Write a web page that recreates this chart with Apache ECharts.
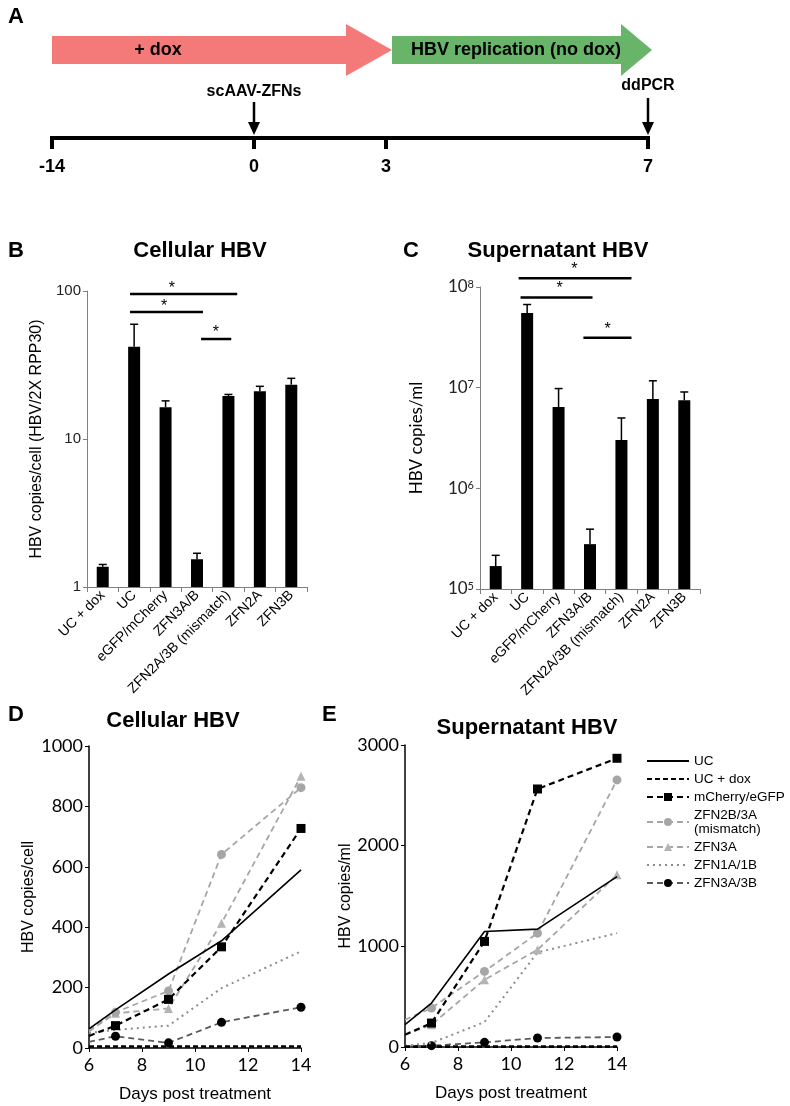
<!DOCTYPE html>
<html><head><meta charset="utf-8">
<script src="https://cdn.jsdelivr.net/npm/echarts@6/dist/echarts.min.js"></script>
<style>html,body{margin:0;padding:0;background:#fff}#c{width:790px;height:1106px}</style>
</head><body><div id="c"></div>
<script>
// ---------- data ----------
const timelineLabels = ['-14', '0', '3', '7'];
const barCategories = ['UC + dox', 'UC', 'eGFP/mCherry', 'ZFN3A/B', 'ZFN2A/3B (mismatch)', 'ZFN2A', 'ZFN3B'];
const cellularMeans = [1.37, 42, 16.4, 1.54, 19.5, 21, 23.3];
const cellularErrTop = [1.42, 59.6, 18.1, 1.69, 20.0, 22.7, 25.7];
const superMeans = [1.69e5, 5.53e7, 6.43e6, 2.79e5, 3.02e6, 7.73e6, 7.48e6];
const superErrTop = [2.16e5, 6.7e7, 9.8e6, 3.93e5, 5.0e6, 1.17e7, 9.06e6];
// significance bars: [fromIndex, toIndex, level]
const cellularSig = [[0.87, 4.28, 95.4], [0.87, 3.19, 72], [3.13, 4.09, 47.4]];
const cellularStars = [[2.2, 104], [1.95, 79], [3.6, 52]];
const superSig = [[0.73, 4.32, 1.22e8], [0.79, 3.08, 7.87e7], [2.79, 4.32, 3.14e7]];
const superStars = [[2.5, 1.5e8], [2.03, 9.6e7], [3.56, 3.8e7]];

const days = [6, 7, 9, 11, 14];
const lineNames = ['UC', 'UC + dox', 'mCherry/eGFP', 'ZFN2B/3A\n(mismatch)', 'ZFN3A', 'ZFN1A/1B', 'ZFN3A/3B'];
const cellUC = [63, 126, 245, 355, 590];
const cellUCdox = [5, 5, 5, 5, 5];
const cellMCherry = [40, 74, 161, 335, 727];
const cellZFN2B3A = [60, 118, 189, 641, 862];
const cellZFN3A = [55, 115, 131, 413, 900];
const cellZFN1A1B = [50, 60, 74, 198, 320];
const cellZFN3A3B = [20, 39, 17, 85, 135];
const supUC = [222, 437, 1148, 1171, 1693];
const supUCdox = [4, 4, 4, 4, 4];
const supMCherry = [122, 238, 1049, 2563, 2868];
const supZFN2B3A = [271, 387, 751, 1131, 2653];
const supZFN3A = [122, 222, 668, 966, 1710];
const supZFN1A1B = [13, 40, 248, 939, 1131];
const supZFN3A3B = [5, 13, 46, 89, 99];

// ---------- styles ----------
const SANS = "'Liberation Sans', Arial, sans-serif";
const CAL = "Lato, 'Liberation Sans', sans-serif";
const lineStyles = [
  {color: '#000', width: 1.6, type: 'solid', symbol: 'none', mcolor: '#000'},
  {color: '#000', width: 2.6, type: [5, 3], symbol: 'none', mcolor: '#000'},
  {color: '#000', width: 2.2, type: [6, 4], symbol: 'rect', size: 9, mcolor: '#000'},
  {color: '#a6a6a6', width: 1.8, type: [6, 4], symbol: 'circle', size: 9, mcolor: '#a6a6a6'},
  {color: '#a6a6a6', width: 1.8, type: [6, 4], symbol: 'triangle', size: 9, mcolor: '#b4b4b4'},
  {color: '#8c8c8c', width: 2, type: [2, 4], symbol: 'none', mcolor: '#8c8c8c'},
  {color: '#5a5a5a', width: 1.8, type: [6, 4], symbol: 'circle', size: 9, mcolor: '#000'}
];
const cellSets = [cellUC, cellUCdox, cellMCherry, cellZFN2B3A, cellZFN3A, cellZFN1A1B, cellZFN3A3B];
const supSets = [supUC, supUCdox, supMCherry, supZFN2B3A, supZFN3A, supZFN1A1B, supZFN3A3B];

function lineSeries(sets, xi, yi) {
  return sets.map((vals, k) => {
    const st = lineStyles[k];
    return {
      type: 'line', name: lineNames[k], xAxisIndex: xi, yAxisIndex: yi,
      symbol: st.symbol, symbolSize: st.size || 0, showSymbol: st.symbol !== 'none',
      lineStyle: {color: st.color, width: st.width, type: st.type},
      itemStyle: {color: st.mcolor, borderWidth: 0},
      data: days.map((d, i) => i === 0 ? {value: [d, vals[i]], symbol: 'none'} : [d, vals[i]]),
      z: 10 - k, animation: false
    };
  });
}
function errSeries(xi, yi, means, tops) {
  return {
    type: 'custom', xAxisIndex: xi, yAxisIndex: yi, z: 5,
    data: means.map((m, i) => [i, m, tops[i]]),
    renderItem: (params, api) => {
      const p0 = api.coord([api.value(0), api.value(1)]);
      const p1 = api.coord([api.value(0), api.value(2)]);
      return {type: 'group', children: [
        {type: 'line', shape: {x1: p0[0], y1: p0[1], x2: p1[0], y2: p1[1]}, style: {stroke: '#000', lineWidth: 1.5}},
        {type: 'line', shape: {x1: p1[0] - 4, y1: p1[1], x2: p1[0] + 4, y2: p1[1]}, style: {stroke: '#000', lineWidth: 1.5}}
      ]};
    }
  };
}
function sigSeries(xi, yi, sig, stars) {
  const out = sig.map(s => ({
    type: 'line', xAxisIndex: xi, yAxisIndex: yi, clip: false, symbol: 'none', silent: true,
    lineStyle: {color: '#000', width: 2.5}, data: [[s[0], s[2]], [s[1], s[2]]]
  }));
  out.push({
    type: 'scatter', xAxisIndex: xi, yAxisIndex: yi, clip: false, symbolSize: 1,
    itemStyle: {opacity: 0}, data: stars,
    label: {show: true, position: 'inside', formatter: '*', fontSize: 16, color: '#000', fontFamily: SANS, opacity: 1}
  });
  return out;
}
function catAxis(gi) {
  return {
    type: 'category', gridIndex: gi, data: barCategories,
    axisLine: {onZero: false, lineStyle: {color: '#808080', width: 1}},
    axisTick: {show: true, length: 5, lineStyle: {color: '#808080'}},
    axisLabel: {rotate: 45, interval: 0, fontSize: 14, color: '#000', fontFamily: SANS, margin: 6}
  };
}
function hiddenX(gi) {
  return {type: 'value', gridIndex: gi, min: -0.5, max: 6.5, show: false};
}
function timeAxisX(gi) {
  return {
    type: 'value', gridIndex: gi, min: 6, max: 14, interval: 2,
    name: 'Days post treatment', nameLocation: 'middle', nameGap: 38,
    nameTextStyle: {fontSize: 17, color: '#000', fontFamily: SANS},
    axisLine: {onZero: false, lineStyle: {color: '#000', width: 1.5}},
    axisTick: {show: true, length: 4, lineStyle: {color: '#000'}},
    axisLabel: {fontSize: 18, color: '#000', fontFamily: CAL, margin: 8, formatter: v => String(v)},
    splitLine: {show: false}
  };
}
function valAxisY(gi, max, interval, name, gap) {
  return {
    type: 'value', gridIndex: gi, min: 0, max: max, interval: interval,
    name: name, nameLocation: 'middle', nameGap: gap,
    nameTextStyle: {fontSize: 16, color: '#000', fontFamily: SANS},
    axisLine: {show: true, onZero: false, lineStyle: {color: '#000', width: 1.5}},
    axisTick: {show: true, length: 4, lineStyle: {color: '#000'}},
    axisLabel: {fontSize: 18, color: '#000', fontFamily: CAL, margin: 6, formatter: v => String(v)},
    splitLine: {show: false}
  };
}

// ---------- panel A schematic ----------
const tlX = [52, 254, 386, 648];
const graphics = [
  {type: 'text', left: 8, top: 6, style: {text: 'A', font: 'bold 22px ' + SANS, fill: '#000'}},
  {type: 'text', left: 8, top: 240, style: {text: 'B', font: 'bold 22px ' + SANS, fill: '#000'}},
  {type: 'text', left: 403, top: 240, style: {text: 'C', font: 'bold 22px ' + SANS, fill: '#000'}},
  {type: 'text', left: 8, top: 704, style: {text: 'D', font: 'bold 22px ' + SANS, fill: '#000'}},
  {type: 'text', left: 322, top: 704, style: {text: 'E', font: 'bold 22px ' + SANS, fill: '#000'}},
  {type: 'polygon', shape: {points: [[52, 36], [346, 36], [346, 24], [392, 50], [346, 76], [346, 64], [52, 64]]}, style: {fill: '#f47a7a'}},
  {type: 'polygon', shape: {points: [[392, 36], [621, 36], [621, 24], [652, 50], [621, 76], [621, 64], [392, 64]]}, style: {fill: '#68b468'}},
  {type: 'text', x: 158, y: 50, style: {text: '+ dox', font: 'bold 18px ' + SANS, fill: '#000', align: 'center', verticalAlign: 'middle'}},
  {type: 'text', x: 516, y: 50, style: {text: 'HBV replication (no dox)', font: 'bold 18px ' + SANS, fill: '#000', align: 'center', verticalAlign: 'middle'}},
  {type: 'text', x: 254, y: 92, style: {text: 'scAAV-ZFNs', font: 'bold 16px ' + SANS, fill: '#000', align: 'center', verticalAlign: 'middle'}},
  {type: 'text', x: 648, y: 86, style: {text: 'ddPCR', font: 'bold 16px ' + SANS, fill: '#000', align: 'center', verticalAlign: 'middle'}},
  {type: 'line', shape: {x1: 254, y1: 102, x2: 254, y2: 124}, style: {stroke: '#000', lineWidth: 2.5}},
  {type: 'polygon', shape: {points: [[248, 122], [260, 122], [254, 135]]}, style: {fill: '#000'}},
  {type: 'line', shape: {x1: 648, y1: 98, x2: 648, y2: 124}, style: {stroke: '#000', lineWidth: 2.5}},
  {type: 'polygon', shape: {points: [[642, 122], [654, 122], [648, 135]]}, style: {fill: '#000'}},
  {type: 'line', shape: {x1: 50, y1: 138, x2: 650, y2: 138}, style: {stroke: '#000', lineWidth: 4}}
];
tlX.forEach((x, i) => {
  graphics.push({type: 'line', shape: {x1: x, y1: 136, x2: x, y2: 149}, style: {stroke: '#000', lineWidth: 4}});
  graphics.push({type: 'text', x: x, y: 167, style: {text: timelineLabels[i], font: 'bold 18px ' + SANS, fill: '#000', align: 'center', verticalAlign: 'middle'}});
});

const legendData = lineNames.map((n, k) => lineStyles[k].symbol === 'none'
  ? {name: n, itemStyle: {opacity: 0}} : {name: n});

const option = {
  animation: false,
  backgroundColor: '#fff',
  title: [
    {text: 'Cellular HBV', left: 195, top: 235, textAlign: 'center', textStyle: {fontSize: 22, fontWeight: 'bold', fontFamily: SANS, color: '#000'}},
    {text: 'Supernatant HBV', left: 553, top: 235, textAlign: 'center', textStyle: {fontSize: 22, fontWeight: 'bold', fontFamily: SANS, color: '#000'}},
    {text: 'Cellular HBV', left: 168, top: 705, textAlign: 'center', textStyle: {fontSize: 22, fontWeight: 'bold', fontFamily: SANS, color: '#000'}},
    {text: 'Supernatant HBV', left: 522, top: 712, textAlign: 'center', textStyle: {fontSize: 22, fontWeight: 'bold', fontFamily: SANS, color: '#000'}}
  ],
  grid: [
    {left: 87, top: 291, width: 220, height: 296, outerBoundsMode: 'none', containLabel: false},
    {left: 480, top: 287, width: 220, height: 302, outerBoundsMode: 'none', containLabel: false},
    {left: 89, top: 746, width: 212, height: 302, outerBoundsMode: 'none', containLabel: false},
    {left: 405, top: 745, width: 212, height: 302, outerBoundsMode: 'none', containLabel: false}
  ],
  xAxis: [catAxis(0), catAxis(1), hiddenX(0), hiddenX(1), timeAxisX(2), timeAxisX(3)],
  yAxis: [
    {type: 'log', gridIndex: 0, min: 1, max: 100, logBase: 10,
      name: 'HBV copies/cell (HBV/2X RPP30)', nameLocation: 'middle', nameGap: 42, nameMoveOverlap: false,
      nameTextStyle: {fontSize: 16, color: '#000', fontFamily: SANS},
      axisLine: {show: true, onZero: false, lineStyle: {color: '#808080'}},
      axisTick: {show: true, length: 4, lineStyle: {color: '#808080'}},
      axisLabel: {fontSize: 15, color: '#222', fontFamily: SANS, margin: 6},
      splitLine: {show: false}, minorTick: {show: false}},
    {type: 'log', gridIndex: 1, min: 1e5, max: 1e8, logBase: 10,
      name: 'HBV copies/ml', nameLocation: 'middle', nameGap: 55, nameMoveOverlap: false,
      nameTextStyle: {fontSize: 17, color: '#000', fontFamily: CAL},
      axisLine: {show: true, onZero: false, lineStyle: {color: '#808080'}},
      axisTick: {show: true, length: 4, lineStyle: {color: '#808080'}},
      axisLabel: {color: '#222', margin: 6,
        formatter: v => '{b|10}{s|' + Math.round(Math.log10(v)) + '}',
        rich: {b: {fontSize: 17, fontFamily: CAL, color: '#222', verticalAlign: 'bottom'},
               s: {fontSize: 11, fontFamily: CAL, color: '#222', verticalAlign: 'top'}}},
      splitLine: {show: false}, minorTick: {show: false}},
    valAxisY(2, 1000, 200, 'HBV copies/cell', 52),
    valAxisY(3, 3000, 1000, 'HBV copies/ml', 50)
  ],
  legend: {
    orient: 'vertical', left: 641, top: 749, itemWidth: 42, itemHeight: 10, itemGap: 4,
    data: legendData, selectedMode: false,
    textStyle: {fontSize: 13.5, color: '#000', fontFamily: SANS, lineHeight: 14}
  },
  series: [
    {type: 'bar', xAxisIndex: 0, yAxisIndex: 0, data: cellularMeans, barWidth: 12, clip: true, itemStyle: {color: '#000'}, z: 4},
    {type: 'bar', xAxisIndex: 1, yAxisIndex: 1, data: superMeans, barWidth: 12, clip: true, itemStyle: {color: '#000'}, z: 4},
    errSeries(0, 0, cellularMeans, cellularErrTop),
    errSeries(1, 1, superMeans, superErrTop),
    ...sigSeries(2, 0, cellularSig, cellularStars),
    ...sigSeries(3, 1, superSig, superStars),
    ...lineSeries(cellSets, 4, 2),
    ...lineSeries(supSets, 5, 3)
  ],
  graphic: graphics
};
const chart = echarts.init(document.getElementById('c'), null, {renderer: 'canvas', width: 790, height: 1106});
chart.setOption(option);
</script></body></html>
